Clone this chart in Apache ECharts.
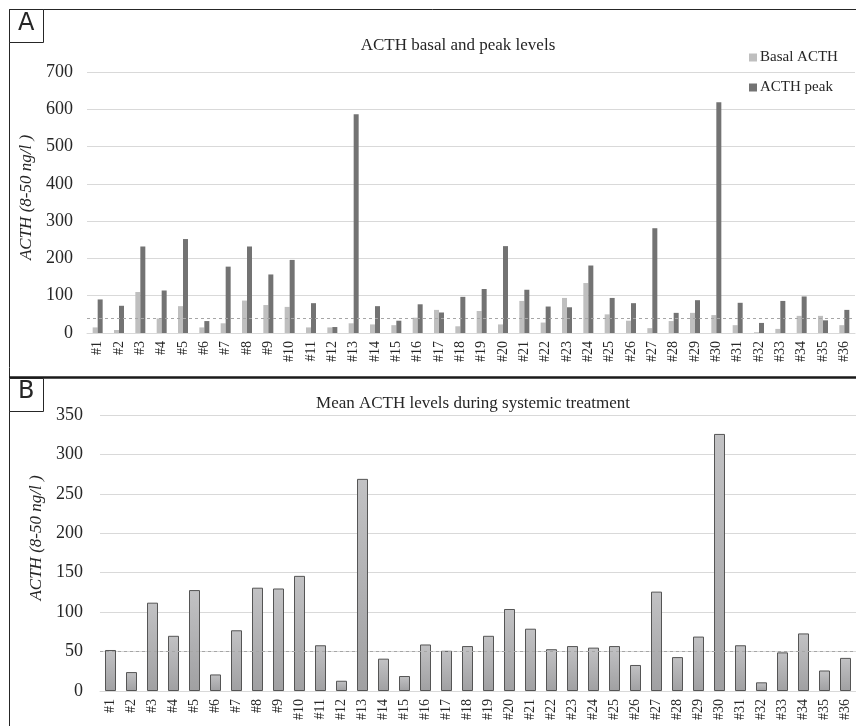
<!DOCTYPE html>
<html>
<head>
<meta charset="utf-8">
<script src="https://cdn.jsdelivr.net/npm/echarts@6/dist/echarts.min.js"></script>
<style>
  html, body { margin: 0; padding: 0; background: #fff; }
  #chart { width: 856px; height: 726px; }
</style>
</head>
<body>
<div id="chart"></div>
<script>
// patients #1 .. #36
var patients = [];
for (var i = 1; i <= 36; i++) patients.push('#' + i);

// panel A values (ng/l)
var basalACTH = [15, 8, 110, 39, 72, 15, 26, 87, 75, 70, 15, 15, 26, 23, 21, 41, 62, 18,
                 59, 23, 86, 28, 94, 134, 50, 33, 13, 32, 54, 48, 21, 2, 11, 46, 46, 21];
var peakACTH = [90, 73, 232, 114, 252, 32, 178, 232, 157, 196, 80, 16, 587, 72, 33, 77, 55, 97,
                118, 233, 116, 71, 69, 181, 94, 80, 281, 54, 88, 619, 81, 27, 86, 98, 34, 62];

// panel B values (ng/l)
var meanACTH = [52, 24, 112, 70, 128, 21, 77, 131, 130, 146, 58, 13, 269, 41, 19, 59, 51, 57,
                70, 104, 79, 53, 57, 55, 57, 33, 126, 43, 69, 326, 58, 11, 49, 73, 26, 42];

var upperNormalA = 40;
var upperNormalB = 50;

var serif = 'Liberation Serif';
var gridColor = '#d9d9d9';

function refLine(v) {
    return {
        silent: true,
        symbol: 'none',
        label: {show: false},
        lineStyle: {color: '#a6a6a6', type: [3, 3], width: 1},
        data: [{yAxis: v}]
    };
}

function xAxisFor(idx) {
    return {
        type: 'category',
        gridIndex: idx,
        data: patients,
        axisTick: {show: false},
        axisLine: {lineStyle: {color: gridColor}},
        axisLabel: {rotate: 90, interval: 0, color: '#262626', fontSize: 14, fontFamily: serif, margin: 8}
    };
}

function yAxisFor(idx, max, interval, gap, shift) {
    return {
        type: 'value',
        gridIndex: idx,
        min: 0,
        max: max,
        interval: interval,
        name: 'ACTH (8-50 ng/l )',
        nameLocation: 'middle',
        nameGap: gap,
        nameTextStyle: {fontStyle: 'italic', fontSize: 17, fontFamily: serif, color: '#262626',
                        padding: [0, 0, 0, shift]},
        axisLine: {show: false},
        axisTick: {show: false},
        axisLabel: {fontSize: 18, fontFamily: serif, color: '#262626', margin: idx ? 17 : 14},
        splitLine: {lineStyle: {color: gridColor}}
    };
}

var myChart = echarts.init(document.getElementById('chart'));

var option = {
    animation: false,
    backgroundColor: '#fff',
    textStyle: {fontFamily: serif},
    title: [
        {text: 'ACTH basal and peak levels', left: 453, top: 32, textAlign: 'center',
         textStyle: {fontFamily: serif, fontWeight: 'normal', fontSize: 17, color: '#262626'}},
        {text: 'Mean ACTH levels during systemic treatment', left: 468, top: 390, textAlign: 'center',
         textStyle: {fontFamily: serif, fontWeight: 'normal', fontSize: 17, color: '#262626'}}
    ],
    legend: {
        orient: 'vertical',
        left: 744,
        top: 45,
        itemWidth: 8,
        itemHeight: 8,
        itemGap: 15,
        icon: 'rect',
        textStyle: {fontFamily: serif, fontSize: 15, color: '#262626', padding: [0, 0, 0, -2]},
        data: ['Basal ACTH', 'ACTH peak']
    },
    grid: [
        {left: 87, top: 72, width: 768, height: 261},
        {left: 100, top: 415, width: 756, height: 276}
    ],
    xAxis: [xAxisFor(0), xAxisFor(1)],
    yAxis: [yAxisFor(0, 700, 100, 51, 10), yAxisFor(1, 350, 50, 52, 30)],
    series: [
        {
            name: 'Basal ACTH', type: 'bar', xAxisIndex: 0, yAxisIndex: 0,
            data: basalACTH, barWidth: 5, barGap: '0%',
            itemStyle: {color: '#bfbfbf'}
        },
        {
            name: 'ACTH peak', type: 'bar', xAxisIndex: 0, yAxisIndex: 0,
            data: peakACTH, barWidth: 5, barGap: '0%',
            itemStyle: {color: '#737373'},
            markLine: refLine(upperNormalA)
        },
        {
            name: 'Mean ACTH', type: 'bar', xAxisIndex: 1, yAxisIndex: 1,
            data: meanACTH, barWidth: 11,
            itemStyle: {
                color: new echarts.graphic.LinearGradient(0, 0, 0, 1, [
                    {offset: 0, color: '#c2c2c4'},
                    {offset: 1, color: '#a0a0a2'}
                ]),
                borderColor: '#555555',
                borderWidth: 1
            },
            markLine: refLine(upperNormalB)
        }
    ],
    graphic: [
        {type: 'line', shape: {x1: 9.5, y1: 9.5, x2: 856, y2: 9.5}, style: {stroke: '#262626', lineWidth: 1}},
        {type: 'line', shape: {x1: 9.5, y1: 9, x2: 9.5, y2: 726}, style: {stroke: '#262626', lineWidth: 1}},
        {type: 'line', shape: {x1: 9, y1: 377.5, x2: 856, y2: 377.5}, style: {stroke: '#1a1a1a', lineWidth: 2.5}},
        {type: 'rect', shape: {x: 9.5, y: 9.5, width: 34, height: 33}, style: {fill: '#fff', stroke: '#262626', lineWidth: 1}},
        {type: 'text', left: 18, top: 12, style: {text: 'A', fontFamily: 'DejaVu Sans', fontSize: 24, fill: '#262626'}},
        {type: 'rect', shape: {x: 9.5, y: 378.5, width: 34, height: 33}, style: {fill: '#fff', stroke: '#262626', lineWidth: 1}},
        {type: 'text', left: 18, top: 380, style: {text: 'B', fontFamily: 'DejaVu Sans', fontSize: 24, fill: '#262626'}}
    ]
};

myChart.setOption(option);
window.onresize = myChart.resize;
</script>
</body>
</html>
